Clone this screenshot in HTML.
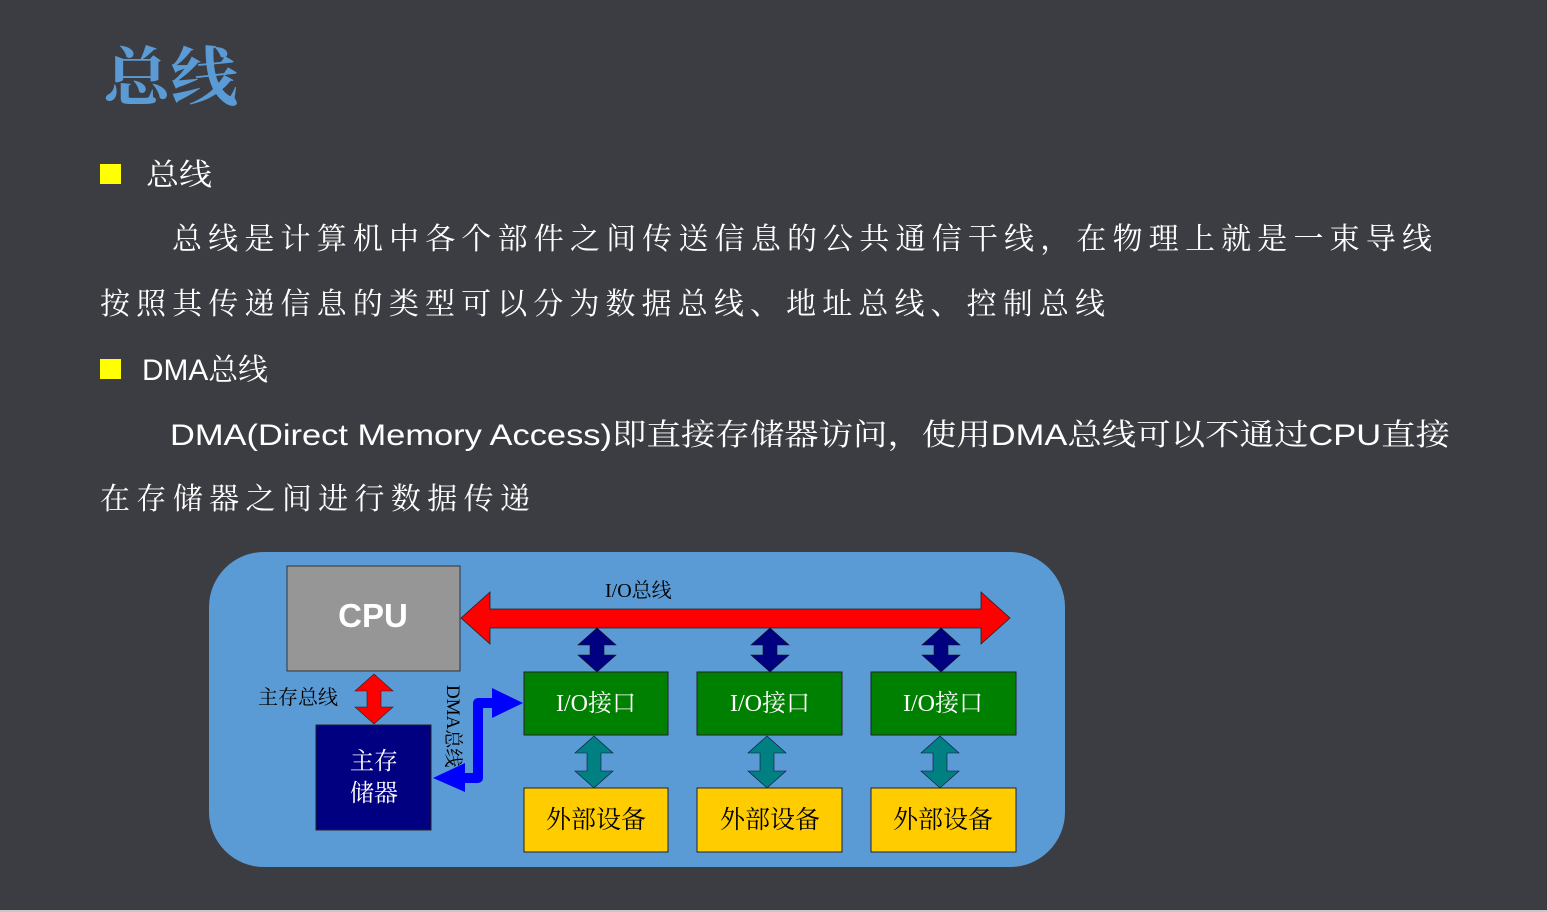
<!DOCTYPE html>
<html><head><meta charset="utf-8"><style>
html,body{margin:0;padding:0;background:#3c3d42;}
svg{display:block;}
.b{font-family:"Liberation Sans","Noto Serif CJK SC",serif;fill:#fff;font-size:30px;}
.s{font-family:"Liberation Serif","Noto Serif CJK SC",serif;}
</style></head><body>
<svg width="1547" height="912" viewBox="0 0 1547 912" xmlns="http://www.w3.org/2000/svg">
<rect width="1547" height="912" fill="#3c3d42"/>
<rect x="0" y="910" width="1547" height="2" fill="#c8c8c8"/>
<text x="103" y="100" font-family="Noto Serif CJK SC,serif" font-size="64" font-weight="bold" fill="#5b9bd5" textLength="135" lengthAdjust="spacingAndGlyphs">总线</text>
<rect x="100" y="164" width="21" height="20" fill="#ffff00"/>
<text class="b" x="146" y="185" textLength="66" lengthAdjust="spacingAndGlyphs">总线</text>
<text class="b" x="172" y="249" textLength="1260">总线是计算机中各个部件之间传送信息的公共通信干线，在物理上就是一束导线</text>
<text class="b" x="100" y="314" textLength="1005">按照其传递信息的类型可以分为数据总线、地址总线、控制总线</text>
<rect x="100" y="359" width="21" height="20" fill="#ffff00"/>
<text class="b" x="142" y="380" textLength="126" lengthAdjust="spacingAndGlyphs">DMA总线</text>
<text class="b" x="170" y="445" textLength="1280" lengthAdjust="spacingAndGlyphs">DMA(Direct Memory Access)即直接存储器访问，使用DMA总线可以不通过CPU直接</text>
<text class="b" x="100" y="509" textLength="430">在存储器之间进行数据传递</text>

<rect x="209" y="552" width="856" height="315" rx="55" fill="#5b9bd5"/>
<rect x="287" y="566" width="173" height="105" fill="#969696" stroke="#333" stroke-width="1"/>
<text x="373" y="627" text-anchor="middle" font-family="Liberation Sans,sans-serif" font-weight="bold" font-size="33" fill="#fff">CPU</text>
<polygon points="461,618 490,592 490,609 981,609 981,592 1010,618 981,644 981,628 490,628 490,644" fill="#ff0000" stroke="#222" stroke-width="0.8"/>
<text class="s" x="605" y="597" font-size="20" fill="#000">I/O总线</text>

<g fill="#000080" stroke="#111" stroke-width="0.6">
<polygon points="597,628 616,645 604,645 604,655 616,655 597,672 578,655 590,655 590,645 578,645"/>
<polygon points="770,628 789,645 777,645 777,655 789,655 770,672 751,655 763,655 763,645 751,645"/>
<polygon points="941,628 960,645 948,645 948,655 960,655 941,672 922,655 934,655 934,645 922,645"/>
</g>
<g fill="#008080" stroke="#114" stroke-width="0.6">
<polygon points="594,736 613,753 601,753 601,771 613,771 594,788 575,771 587,771 587,753 575,753"/>
<polygon points="767,736 786,753 774,753 774,771 786,771 767,788 748,771 760,771 760,753 748,753"/>
<polygon points="940,736 959,753 947,753 947,771 959,771 940,788 921,771 933,771 933,753 921,753"/>
</g>
<g stroke="#222" stroke-width="1">
<rect x="524" y="672" width="144" height="63" fill="#008000"/>
<rect x="697" y="672" width="145" height="63" fill="#008000"/>
<rect x="871" y="672" width="145" height="63" fill="#008000"/>
<rect x="524" y="788" width="144" height="64" fill="#ffcc00"/>
<rect x="697" y="788" width="145" height="64" fill="#ffcc00"/>
<rect x="871" y="788" width="145" height="64" fill="#ffcc00"/>
<rect x="316" y="725" width="115" height="105" fill="#000080"/>
</g>
<g class="s" font-size="24" fill="#fff" text-anchor="middle">
<text x="596" y="711">I/O接口</text>
<text x="770" y="711">I/O接口</text>
<text x="943" y="711">I/O接口</text>
<text x="374" y="769">主存</text>
<text x="374" y="801">储器</text>
</g>
<g class="s" font-size="25" fill="#000" text-anchor="middle">
<text x="596" y="828">外部设备</text>
<text x="770" y="828">外部设备</text>
<text x="943" y="828">外部设备</text>
</g>
<polygon points="374,674 393,691 381,691 381,707 393,707 374,724 355,707 367,707 367,691 355,691" fill="#ff0000" stroke="#222" stroke-width="0.6"/>
<text class="s" x="258" y="704" font-size="20" fill="#000">主存总线</text>

<polyline points="462,778 478,778 478,703 495,703" fill="none" stroke="#0000ff" stroke-width="10" stroke-linejoin="round"/>
<polygon points="433,778 465,763 465,792" fill="#0000ff"/>
<polygon points="523,703 492,688 492,718" fill="#0000ff"/>
<text class="s" font-size="19" fill="#000" transform="translate(447,685) rotate(90)">DMA总线</text>
</svg>
</body></html>
